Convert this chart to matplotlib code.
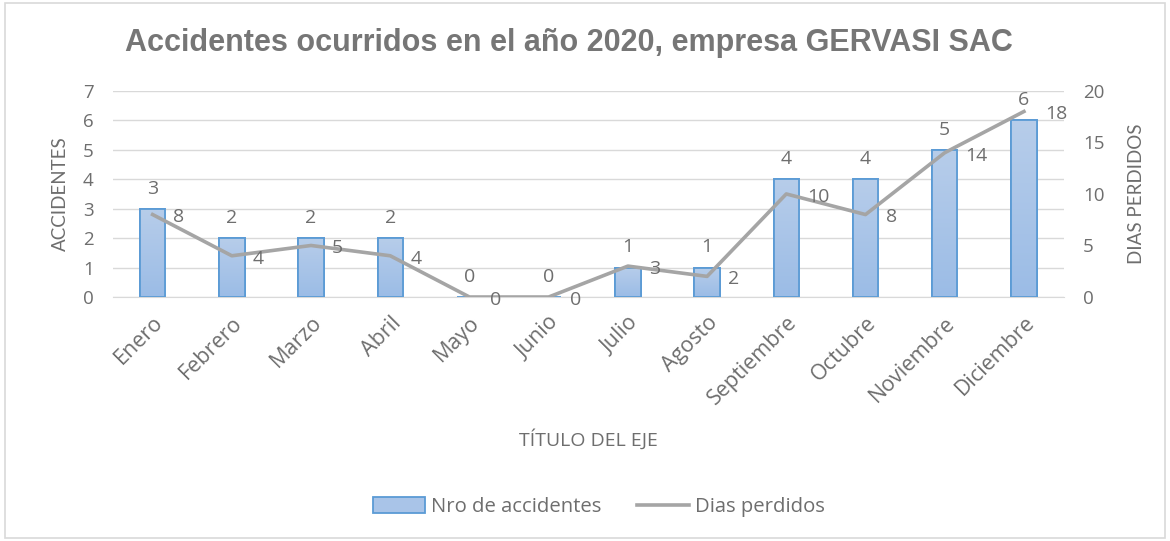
import matplotlib
matplotlib.use("Agg")
import matplotlib.pyplot as plt
import numpy as np
from matplotlib.patches import Rectangle, Patch
from matplotlib.lines import Line2D
from matplotlib.colors import LinearSegmentedColormap

months = ["Enero", "Febrero", "Marzo", "Abril", "Mayo", "Junio", "Julio",
          "Agosto", "Septiembre", "Octubre", "Noviembre", "Diciembre"]
accidentes = [3, 2, 2, 2, 0, 0, 1, 1, 4, 4, 5, 6]
dias_perdidos = [8, 4, 5, 4, 0, 0, 3, 2, 10, 8, 14, 18]

title = "Accidentes ocurridos en el año 2020, empresa GERVASI SAC"
txt = "#6e6e6e"
vfont = ["Lato", "DejaVu Sans"]
hfont = ["Open Sans", "DejaVu Sans"]

plt.rcParams["font.family"] = hfont

fig = plt.figure(figsize=(11.7, 5.41), dpi=100)
fig.patches.append(Rectangle((0.004, 0.006), 0.992, 0.988, transform=fig.transFigure,
                             fill=False, edgecolor="#d9d9d9", linewidth=1.2))
ax = fig.add_axes([0.0966, 0.451, 0.8124, 0.381])
ax2 = ax.twinx()

x = np.arange(len(months))
bars = ax.bar(x, accidentes, width=0.32, color="#a9c4e8", edgecolor="#5b9bd5",
              linewidth=1.3, zorder=3)
grad = np.linspace(0, 1, 256).reshape(-1, 1)
cmap = LinearSegmentedColormap.from_list("g", ["#9bbce6", "#b7cdea"])
for b in bars:
    if b.get_height() <= 0:
        continue
    im = ax.imshow(grad, cmap=cmap, aspect="auto", origin="lower",
                   extent=[b.get_x(), b.get_x() + b.get_width(), 0, b.get_height()],
                   zorder=3.5)
    im.set_clip_path(b)
    ax.add_patch(Rectangle((b.get_x(), 0), b.get_width(), b.get_height(), fill=False,
                           edgecolor="#5b9bd5", linewidth=1.3, zorder=4))

ax.set_xlim(-0.5, len(months) - 0.5)
ax.set_ylim(0, 7)
ax.set_yticks(range(0, 8))
ax.grid(axis="y", color="#d9d9d9", linewidth=1.0, zorder=0)
ax.set_axisbelow(True)

for xi, v in zip(x, accidentes):
    ax.annotate(str(v), (xi, v), xytext=(0, 8), textcoords="offset points",
                ha="center", va="bottom", fontsize=14, color=txt, zorder=6)

ax2.plot(x, dias_perdidos, color="#a5a5a5", linewidth=2.6, zorder=5)
ax2.set_ylim(0, 20)
ax2.set_yticks(range(0, 21, 5))
for xi, v in zip(x, dias_perdidos):
    ax2.annotate(str(v), (xi, v), xytext=(15, -2), textcoords="offset points",
                 ha="left", va="center", fontsize=14, color=txt, zorder=6)

for a in (ax, ax2):
    for s in a.spines.values():
        s.set_visible(False)
    a.tick_params(length=0, labelsize=13.5, colors=txt)
ax.spines["bottom"].set_visible(True)
ax.spines["bottom"].set_color("#d9d9d9")

ax.set_xticks(x)
ax.set_xticklabels(months, rotation=45, ha="right", rotation_mode="anchor",
                   fontsize=15.5)
ax.tick_params(axis="x", pad=11)
ax.tick_params(axis="y", pad=14)
ax2.tick_params(axis="y", pad=14)

ax.set_ylabel("ACCIDENTES", fontsize=13.5, color=txt, labelpad=10, family=vfont)
ax2.set_ylabel("DIAS PERDIDOS", fontsize=13.5, color=txt, labelpad=17, family=vfont)
ax.set_xlabel("TÍTULO DEL EJE", fontsize=14, color=txt, labelpad=14)

fig.text(0.486, 0.921, title, ha="center", va="center", fontsize=22,
         fontweight="bold", color="#767676", family=["Liberation Sans", "DejaVu Sans"])

handles = [Patch(facecolor="#a9c4e8", edgecolor="#5b9bd5", linewidth=1.3),
           Line2D([0], [0], color="#a5a5a5", linewidth=2.6)]
fig.legend(handles, ["Nro de accidentes", "Dias perdidos"], loc="center",
           bbox_to_anchor=(0.512, 0.063), ncol=2, frameon=False, fontsize=14.6,
           labelcolor=txt, handlelength=2.56, handleheight=0.8, columnspacing=1.77,
           handletextpad=0.3)

fig.savefig("out.png", dpi=100)
